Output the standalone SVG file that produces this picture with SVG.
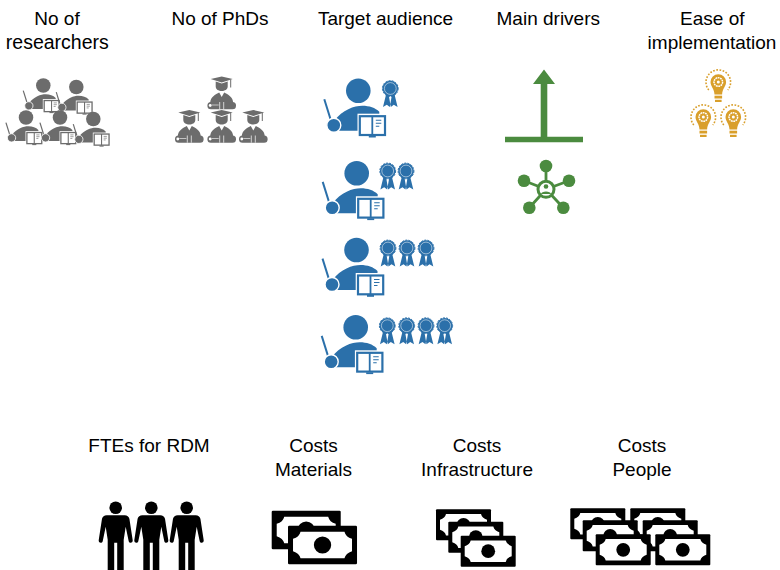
<svg xmlns="http://www.w3.org/2000/svg" xmlns:xlink="http://www.w3.org/1999/xlink" width="780" height="570" viewBox="0 0 780 570">
<style>
text{font-family:"Liberation Sans",Arial,sans-serif;font-size:19px;fill:#000;text-anchor:middle}
.blue{fill:#2b70aa;stroke:#2b70aa;color:#2b70aa}
.grey{fill:#6c6c6c;stroke:#6c6c6c;color:#6c6c6c}
.gold{color:#d99f2b}
.green{fill:#4b8b3f}
</style>
<defs>
<g id="teacher">
<circle cx="0" cy="0" r="12.300" stroke="none"/>
<path d="M-34 8.600L-27 31" fill="none" stroke-width="2"/>
<path d="M-24 30C-16 19-4 15 4 15C11 15 17 17 21 21V40H-20V33Z" stroke="none"/>
<circle cx="-24.500" cy="34.500" r="7" stroke="#fff" stroke-width="1.400"/>
<rect x="0.700" y="24.500" width="26.800" height="20.500" fill="#fff" stroke="#fff" stroke-width="3"/>
<rect x="1.500" y="25.500" width="25.200" height="18.800" fill="#fff" stroke-width="2.200"/>
<path d="M14 25.500V44.500" fill="none" stroke-width="1.800"/>
<path d="M17.500 29.500H23M17.500 32.500H23M17.500 35.500H21" fill="none" stroke-width="1.100"/>
<rect x="10.500" y="45" width="7" height="1.800" stroke="none"/>
</g>
<g id="ribbon">
<path d="M-4 5L-7.300 18.500L-3.500 16.300L-0.500 18.500L1.500 7ZM4 5L7.300 18.500L3.500 16.300L0.500 18.500L-1.500 7Z" stroke="none"/>
<circle r="7.800" stroke="none"/>
<circle r="7.900" fill="none" stroke-width="1" stroke-dasharray="2 1.200"/>
<circle r="5.900" fill="none" stroke="#fff" stroke-width="0.700" opacity="0.75"/>
</g>
<g id="grad" fill="#6c6c6c" stroke="none">
<path d="M-11 -9.500L0 -12L11 -9.500L0 -6Z"/>
<path d="M9 -9V-1" stroke="#6c6c6c" stroke-width="1" fill="none"/>
<path d="M-6 -7L0 -5L6 -7V-2C6 4-6 4-6 -2Z"/>
<path d="M-11.500 15C-11.500 8-6 6-2.500 4L0 8.500L2.500 4C6 6 11.500 8 11.500 15Z"/>
<rect x="-14.300" y="13.500" width="28.600" height="7.200" rx="3.500"/>
<path d="M-2 13.500V20.700M2 13.500V20.700" stroke="#fff" stroke-width="0.700"/>
<circle cx="-11.500" cy="17" r="1.400" fill="#fff"/>
<path d="M-10 16.500H-3" stroke="#fff" stroke-width="0.600"/>
</g>
<g id="bulb">
<path d="M-9.500 8A12.300 12.300 0 1 1 9.500 8" fill="none" stroke="currentColor" stroke-width="1.600" stroke-dasharray="1.700 1.500"/>
<path d="M-7.800 0A7.800 7.800 0 1 1 7.800 0C7.800 4.500 4 6.500 3.800 12.500H-3.800C-4 6.500-7.800 4.500-7.800 0Z" fill="currentColor"/>
<circle r="4.300" fill="none" stroke="#fff" stroke-width="1.500" stroke-dasharray="1.800 0.600"/>
<circle r="1.500" fill="#fff"/>
<rect x="-3.800" y="13.700" width="7.600" height="2.800" fill="currentColor"/>
<rect x="-3.300" y="17.800" width="6.600" height="2.200" fill="currentColor"/>
</g>
<g id="person" fill="#000">
<circle r="6.300"/>
<path d="M-9 7.500H9C11.500 7.500 13 9 13.700 11L17 32.500C17.300 35.500 13.700 36 13 33.500L10 19L8 32V62.500H1.500V35H-1.500V62.500H-8V32L-10 19L-13 33.500C-13.700 36-17.300 35.500-17 32.500L-13.700 11C-13 9-11.500 7.500-9 7.500Z"/>
</g>
<g id="bill">
<rect width="55" height="31" rx="1" fill="#000"/>
<path d="M10 4.800H45Q46 9 51 10.500V20.500Q46 22 45 26.200H10Q9 22 4 20.500V10.500Q9 9 10 4.800Z" fill="#fff"/>
<circle cx="27.500" cy="15.500" r="6.900" fill="#000"/>
</g>
</defs>

<g id="connectors"/>

<g id="no-of-researchers">
<text x="57" y="24.500">No of</text><text x="57.300" y="48.500" style="font-size:19.500px">researchers</text>
<g class="grey">
<use xlink:href="#teacher" href="#teacher" transform="translate(43.300 85.500) scale(.59)"/>
<use xlink:href="#teacher" href="#teacher" transform="translate(76.300 87) scale(.59)"/>
<use xlink:href="#teacher" href="#teacher" transform="translate(26 117.500) scale(.59)"/>
<use xlink:href="#teacher" href="#teacher" transform="translate(60 117.500) scale(.59)"/>
<use xlink:href="#teacher" href="#teacher" transform="translate(93.300 119) scale(.59)"/>
</g>
</g>

<g id="no-of-phds">
<text x="220" y="24.500">No of PhDs</text>
<use xlink:href="#grad" href="#grad" x="221.700" y="88.500"/>
<use xlink:href="#grad" href="#grad" x="189.300" y="122"/>
<use xlink:href="#grad" href="#grad" x="221.700" y="122"/>
<use xlink:href="#grad" href="#grad" x="253.300" y="122"/>
</g>

<g id="target-audience" class="blue">
<text x="385.500" y="24.500" style="stroke:none;fill:#000">Target audience</text>
<use xlink:href="#teacher" href="#teacher" x="358.300" y="90.700"/>
<use xlink:href="#ribbon" href="#ribbon" x="390.300" y="88.500"/>
<use xlink:href="#teacher" href="#teacher" x="356.700" y="173.300"/>
<use xlink:href="#ribbon" href="#ribbon" x="387.700" y="171"/>
<use xlink:href="#ribbon" href="#ribbon" x="406" y="171"/>
<use xlink:href="#teacher" href="#teacher" x="356.500" y="250"/>
<use xlink:href="#ribbon" href="#ribbon" x="388" y="248"/>
<use xlink:href="#ribbon" href="#ribbon" x="407" y="248"/>
<use xlink:href="#ribbon" href="#ribbon" x="426" y="248"/>
<use xlink:href="#teacher" href="#teacher" x="355.700" y="327.300"/>
<use xlink:href="#ribbon" href="#ribbon" x="387.300" y="325.700"/>
<use xlink:href="#ribbon" href="#ribbon" x="406.700" y="325.700"/>
<use xlink:href="#ribbon" href="#ribbon" x="426" y="325.700"/>
<use xlink:href="#ribbon" href="#ribbon" x="444.700" y="325.700"/>
</g>

<g id="main-drivers">
<text x="548.300" y="24.500">Main drivers</text>
<g class="green">
<path d="M544 69.500L555 84H547.300V136.700H583V142.300H505V136.700H540.700V84H533Z"/>
<path d="M546 166V189.300M524 180.700L546 189.300M569 180.700L546 189.300M529.300 207.700L546 189.300M563.300 207.700L546 189.300" stroke="#4b8b3f" stroke-width="2.800" fill="none"/>
<circle cx="546" cy="166" r="6.300"/><circle cx="524" cy="180.700" r="6.300"/><circle cx="569" cy="180.700" r="6.300"/><circle cx="529.300" cy="207.700" r="6.300"/><circle cx="563.300" cy="207.700" r="6.300"/>
<circle cx="546" cy="189.300" r="8" fill="#fff" stroke="#4b8b3f" stroke-width="3"/>
<circle cx="546" cy="186.500" r="2.300"/>
<path d="M541 194C541 190.500 551 190.500 551 194Z"/>
</g>
</g>

<g id="ease-of-implementation" class="gold">
<text x="712.300" y="24.500">Ease of</text><text x="712" y="48.500">implementation</text>
<use xlink:href="#bulb" href="#bulb" x="718.300" y="82"/>
<use xlink:href="#bulb" href="#bulb" x="703.300" y="117"/>
<use xlink:href="#bulb" href="#bulb" x="733.300" y="117"/>
</g>

<g id="ftes-for-rdm">
<text x="149" y="451.500">FTEs for RDM</text>
<use xlink:href="#person" href="#person" x="115.700" y="507.700"/>
<use xlink:href="#person" href="#person" x="151.300" y="507.700"/>
<use xlink:href="#person" href="#person" x="186.700" y="507.700"/>
</g>

<g id="costs-materials">
<text x="313.500" y="451.500">Costs</text><text x="313.500" y="475.500">Materials</text>
<use xlink:href="#bill" href="#bill" transform="translate(271.700 510.700) scale(1.255 1.245)"/>
<use xlink:href="#bill" href="#bill" transform="translate(288 525.700) scale(1.255 1.245)"/>
</g>

<g id="costs-infrastructure">
<text x="477" y="451.500">Costs</text><text x="477" y="475.500">Infrastructure</text>
<use xlink:href="#bill" href="#bill" x="436" y="509.300"/>
<use xlink:href="#bill" href="#bill" x="448.300" y="521.700"/>
<use xlink:href="#bill" href="#bill" x="460.700" y="535.700"/>
</g>

<g id="costs-people">
<text x="642" y="451.500">Costs</text><text x="642" y="475.500">People</text>
<use xlink:href="#bill" href="#bill" x="570.300" y="508.300"/>
<use xlink:href="#bill" href="#bill" x="630.300" y="508.300"/>
<use xlink:href="#bill" href="#bill" x="582.700" y="520.300"/>
<use xlink:href="#bill" href="#bill" x="642.700" y="520.300"/>
<use xlink:href="#bill" href="#bill" x="595.700" y="534.300"/>
<use xlink:href="#bill" href="#bill" x="655.300" y="534.300"/>
</g>
</svg>
